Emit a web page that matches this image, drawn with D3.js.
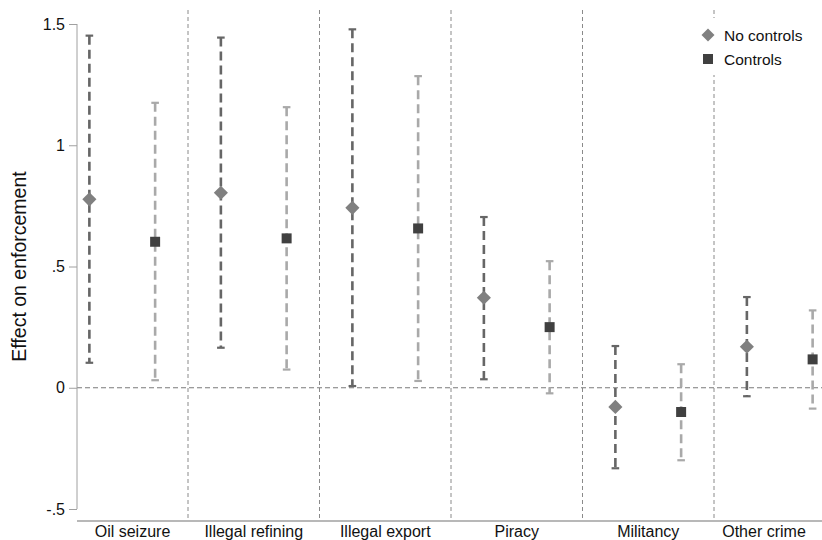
<!DOCTYPE html>
<html>
<head>
<meta charset="utf-8">
<script src="https://cdn.jsdelivr.net/npm/d3@7"></script>
<style>
  html, body { margin: 0; padding: 0; background: #fff; }
  svg { display: block; font-family: "Liberation Sans", Arial, Helvetica, sans-serif; }
</style>
</head>
<body>
<svg id="chart" width="822" height="540"></svg>
<script>
// Outcome categories along the x axis
const categories = ["Oil seizure", "Illegal refining", "Illegal export", "Piracy", "Militancy", "Other crime"];

// Point estimates and 95% confidence bounds, model without controls
const noCtrlEst = [0.777, 0.804, 0.742, 0.371, -0.079, 0.169];
const noCtrlLo  = [0.103, 0.165, 0.007, 0.035, -0.332, -0.035];
const noCtrlHi  = [1.452, 1.444, 1.478, 0.704, 0.172, 0.374];

// Point estimates and 95% confidence bounds, model with controls
const ctrlEst = [0.602, 0.616, 0.657, 0.250, -0.100, 0.117];
const ctrlLo  = [0.031, 0.075, 0.028, -0.023, -0.299, -0.086];
const ctrlHi  = [1.175, 1.157, 1.285, 0.522, 0.097, 0.319];

// Y axis ticks and their labels
const yTicks = [-0.5, 0, 0.5, 1, 1.5];
const yTickLabels = ["-.5", "0", ".5", "1", "1.5"];

const seriesNames = ["No controls", "Controls"];

const W = 822, H = 540;
const plotLeft = 77, plotRight = 822, labelRight = 814, plotTop = 10, axisY = 521;

const svg = d3.select("#chart");

// Category i sits at value i+1; groups are separated at half-integers
const x = d3.scaleLinear().domain([0.5, 6.5]).range([56.5, 845.5]);
const y = d3.scaleLinear().domain([-0.5, 1.5]).range([509, 24]);

const series = [
  { name: seriesNames[0], est: noCtrlEst, lo: noCtrlLo, hi: noCtrlHi, offset: -0.25,
    barColor: "#666666", markColor: "#808080", shape: "diamond" },
  { name: seriesNames[1], est: ctrlEst, lo: ctrlLo, hi: ctrlHi, offset: 0.25,
    barColor: "#a9a9a9", markColor: "#404040", shape: "square" }
];

// Vertical dashed separators between groups
const seps = d3.range(1, categories.length).map(i => i + 0.5);
svg.append("g").selectAll("line").data(seps).join("line")
  .attr("x1", d => x(d)).attr("x2", d => x(d))
  .attr("y1", plotTop).attr("y2", axisY)
  .attr("stroke", "#8a8a8a").attr("stroke-width", 1)
  .attr("stroke-dasharray", "4,3");

// Horizontal dashed reference line at zero
svg.append("line")
  .attr("x1", plotLeft).attr("x2", plotRight)
  .attr("y1", y(0)).attr("y2", y(0))
  .attr("stroke", "#7a7a7a").attr("stroke-width", 1)
  .attr("stroke-dasharray", "5,3");

// Y axis
const yAxis = d3.axisLeft(y).tickValues(yTicks)
  .tickFormat((d, i) => yTickLabels[i]).tickSize(8).tickPadding(4);
const gy = svg.append("g").attr("transform", `translate(${plotLeft},0)`).call(yAxis);
gy.select(".domain").attr("stroke", "#a0a0a0").attr("d", `M0,${y(1.5)}V${y(-0.5)}`);
gy.selectAll(".tick line").attr("stroke", "#a0a0a0");
gy.selectAll(".tick text").attr("font-size", 16).attr("fill", "#111")
  .attr("font-family", "Liberation Sans, Arial, sans-serif");

// X axis baseline
svg.append("line")
  .attr("x1", plotLeft).attr("x2", plotRight)
  .attr("y1", axisY).attr("y2", axisY)
  .attr("stroke", "#a0a0a0").attr("stroke-width", 1.5);

// Category labels centred on the visible part of each group
const xLo = x.invert(plotLeft), xHi = x.invert(labelRight);
svg.append("g").selectAll("text").data(categories).join("text")
  .attr("x", (d, i) => x((Math.max(i + 0.5, xLo) + Math.min(i + 1.5, xHi)) / 2))
  .attr("y", 537)
  .attr("text-anchor", "middle")
  .attr("font-size", 16).attr("fill", "#111")
  .text(d => d);

// Y axis title
svg.append("text")
  .attr("transform", `translate(26,${y(0.5)}) rotate(-90)`)
  .attr("text-anchor", "middle")
  .attr("font-size", 19.5).attr("fill", "#111")
  .text("Effect on enforcement");

// Confidence intervals and point estimates
const capHalf = 3.8;
series.forEach(s => {
  const g = svg.append("g");
  const idx = d3.range(categories.length);
  const cx = i => x(i + 1 + s.offset);

  g.selectAll("line.bar").data(idx).join("line").attr("class", "bar")
    .attr("x1", cx).attr("x2", cx)
    .attr("y1", i => y(s.hi[i])).attr("y2", i => y(s.lo[i]))
    .attr("stroke", s.barColor).attr("stroke-width", 2.6)
    .attr("stroke-dasharray", "9,5");

  g.selectAll("line.capHi").data(idx).join("line").attr("class", "capHi")
    .attr("x1", i => cx(i) - capHalf).attr("x2", i => cx(i) + capHalf)
    .attr("y1", i => y(s.hi[i])).attr("y2", i => y(s.hi[i]))
    .attr("stroke", s.barColor).attr("stroke-width", 2.2);

  g.selectAll("line.capLo").data(idx).join("line").attr("class", "capLo")
    .attr("x1", i => cx(i) - capHalf).attr("x2", i => cx(i) + capHalf)
    .attr("y1", i => y(s.lo[i])).attr("y2", i => y(s.lo[i]))
    .attr("stroke", s.barColor).attr("stroke-width", 2.2);

  const sym = s.shape === "diamond"
    ? d3.symbol().type(d3.symbolSquare).size(100)
    : d3.symbol().type(d3.symbolSquare).size(100);
  g.selectAll("path.mark").data(idx).join("path").attr("class", "mark")
    .attr("d", sym())
    .attr("transform", i => `translate(${cx(i)},${y(s.est[i])})` + (s.shape === "diamond" ? " rotate(45)" : ""))
    .attr("fill", s.markColor);
});

// Legend on a white panel in the upper right
const lg = svg.append("g");
lg.append("rect").attr("x", 698).attr("y", 18).attr("width", 124).attr("height", 57).attr("fill", "#fff");
series.forEach((s, k) => {
  const ly = 35 + k * 24;
  lg.append("path")
    .attr("d", d3.symbol().type(d3.symbolSquare).size(s.shape === "diamond" ? 85 : 100)())
    .attr("transform", `translate(708,${ly})` + (s.shape === "diamond" ? " rotate(45)" : ""))
    .attr("fill", s.markColor);
  lg.append("text").attr("x", 724).attr("y", ly + 6)
    .attr("font-size", 15.5).attr("fill", "#111").text(s.name);
});
</script>
</body>
</html>
